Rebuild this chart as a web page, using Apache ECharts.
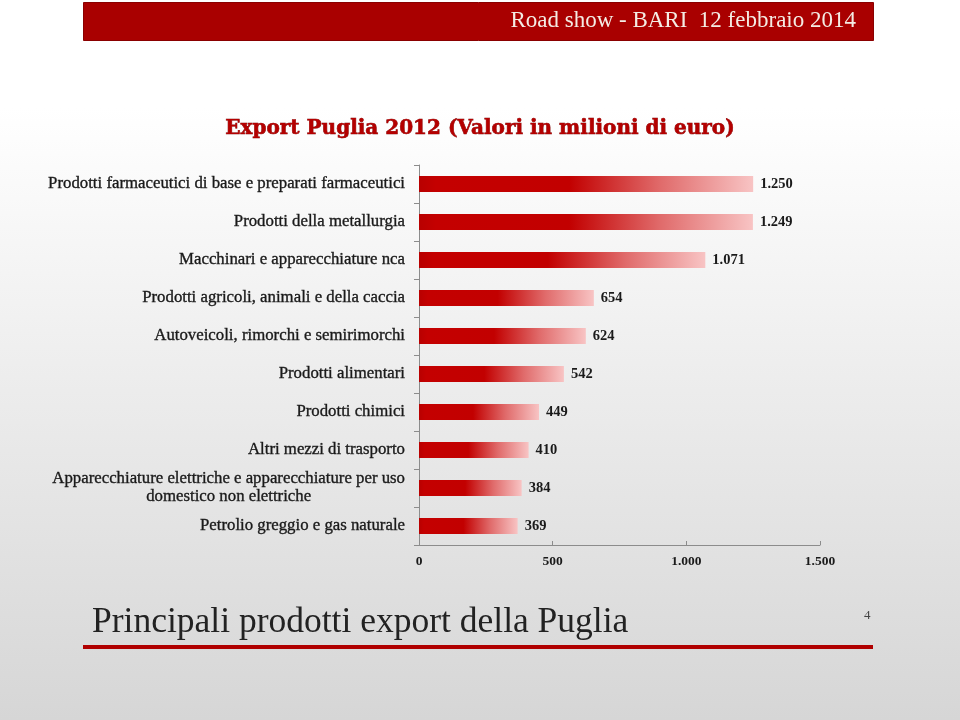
<!DOCTYPE html>
<html>
<head>
<meta charset="utf-8">
<script src="https://cdn.jsdelivr.net/npm/echarts@6/dist/echarts.min.js"></script>
<style>
html,body{margin:0;padding:0;}
#chart{width:960px;height:720px;}
</style>
</head>
<body>
<div id="chart"></div>
<script>
var categories = [
  "Prodotti farmaceutici di base e preparati farmaceutici",
  "Prodotti della metallurgia",
  "Macchinari e apparecchiature nca",
  "Prodotti agricoli, animali e della caccia",
  "Autoveicoli, rimorchi e semirimorchi",
  "Prodotti alimentari",
  "Prodotti chimici",
  "Altri mezzi di trasporto",
  "Apparecchiature elettriche e apparecchiature per uso\ndomestico non elettriche",
  "Petrolio greggio e gas naturale"
];
var values = [1250, 1249, 1071, 654, 624, 542, 449, 410, 384, 369];
var xTicks = [0, 500, 1000, 1500];

var headerText = "Road show - BARI  12 febbraio 2014";
var titleText = "Export Puglia 2012 (Valori in milioni di euro)";
var footerText = "Principali prodotti export della Puglia";
var pageNumber = "4";

function itFormat(v) {
  return String(Math.round(v)).replace(/\B(?=(\d{3})+(?!\d))/g, ".");
}

var chart = echarts.init(document.getElementById('chart'), null, {renderer: 'canvas'});
var serif = "'Liberation Serif', serif";
var labelSize = 16.8;

var option = {
  animation: false,
  backgroundColor: {
    type: 'linear', x: 0, y: 0, x2: 0, y2: 1,
    colorStops: [
      {offset: 0, color: '#ffffff'},
      {offset: 0.15, color: '#ffffff'},
      {offset: 1, color: '#d6d6d6'}
    ]
  },
  grid: {left: 419, right: 140, top: 165, bottom: 175, containLabel: false},
  xAxis: {
    type: 'value',
    min: 0, max: 1500, interval: 500,
    axisLine: {show: true, lineStyle: {color: '#8c8c8c', width: 1}},
    axisTick: {show: true, inside: true, length: 4, lineStyle: {color: '#8c8c8c'}},
    splitLine: {show: false},
    axisLabel: {
      margin: 10,
      fontFamily: serif, fontSize: 13.5, fontWeight: 'bold', color: '#1a1a1a',
      formatter: function (v) { return xTicks.indexOf(v) >= 0 ? itFormat(v) : ''; }
    }
  },
  yAxis: {
    type: 'category',
    inverse: true,
    data: categories,
    axisLine: {show: true, lineStyle: {color: '#8c8c8c', width: 1}},
    axisTick: {show: true, length: 5, lineStyle: {color: '#8c8c8c'}},
    axisLabel: {
      margin: 14,
      fontFamily: serif, fontSize: labelSize, color: '#1a1a1a',
      textBorderColor: '#1a1a1a', textBorderWidth: 0.35,
      lineHeight: 18,
      formatter: function (v) {
        if (v.indexOf('\n') >= 0) {
          return v.split('\n').map(function (s) { return '{c|' + s + '}'; }).join('\n');
        }
        return v;
      },
      rich: {
        c: {align: 'center', fontFamily: serif, fontSize: labelSize, color: '#1a1a1a',
            textBorderColor: '#1a1a1a', textBorderWidth: 0.35, lineHeight: 18}
      }
    }
  },
  series: [{
    type: 'bar',
    data: values,
    barWidth: 16,
    itemStyle: {
      color: {
        type: 'linear', x: 0, y: 0, x2: 1, y2: 0,
        colorStops: [
          {offset: 0, color: '#b80000'},
          {offset: 0.05, color: '#c40000'},
          {offset: 0.45, color: '#c20000'},
          {offset: 0.72, color: '#e06a6a'},
          {offset: 1, color: '#f8c4c4'}
        ]
      }
    },
    label: {
      show: true, position: 'right', distance: 7,
      fontFamily: serif, fontSize: 14.5, fontWeight: 'bold', color: '#1a1a1a',
      formatter: function (p) { return itFormat(p.value); }
    }
  }],
  graphic: [
    {type: 'rect', left: 83, top: 2, shape: {width: 790, height: 38},
     style: {fill: '#a90000', stroke: '#8a0000', lineWidth: 1}, silent: true},
    {type: 'text', right: 104, top: 9,
     style: {text: headerText, font: "23px 'Liberation Serif', serif", fill: '#f4ece4'}, silent: true},
    {type: 'text', left: 'center', top: 118,
     style: {text: titleText, font: "bold 20px 'DejaVu Serif', serif", fill: '#b40000',
             stroke: '#7a0000', lineWidth: 0.6,
             shadowColor: 'rgba(0,0,0,0.35)', shadowBlur: 2, shadowOffsetX: 1, shadowOffsetY: 1}, silent: true},
    {type: 'text', left: 92, top: 605,
     style: {text: footerText, font: "35.5px 'Liberation Serif', serif", fill: '#222222'}, silent: true},
    {type: 'text', left: 864, top: 609,
     style: {text: pageNumber, font: "13px 'Liberation Serif', serif", fill: '#444'}, silent: true},
    {type: 'rect', left: 83, top: 645, shape: {width: 790, height: 4},
     style: {fill: '#b00000'}, silent: true}
  ]
};
chart.setOption(option);
</script>
</body>
</html>
